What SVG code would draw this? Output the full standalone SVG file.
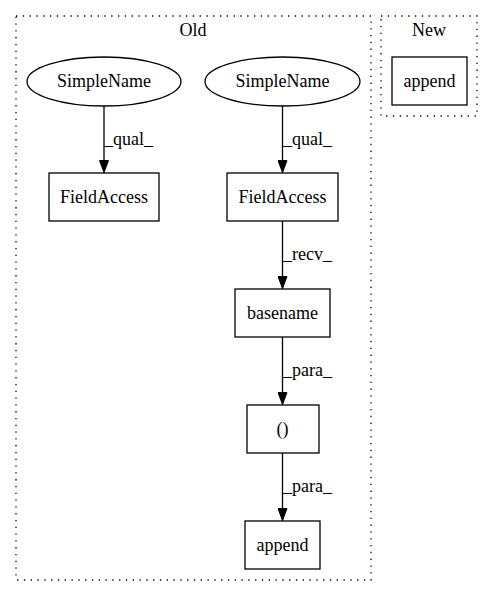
<svg xmlns="http://www.w3.org/2000/svg" width="493" height="596" viewBox="0 0 493 596">
<style>
text{font-family:"Liberation Serif","Times New Roman",serif;font-size:18px;fill:#000}
.n{text-anchor:middle}
.box{fill:none;stroke:#000;stroke-width:1.3}
.cl{fill:none;stroke:#000;stroke-width:1.3;stroke-dasharray:1.3,5.5}
.e{fill:none;stroke:#000;stroke-width:1.3}
</style>
<defs>
<marker id="ah" markerWidth="13" markerHeight="10" refX="13" refY="5" orient="auto" markerUnits="userSpaceOnUse">
<path d="M0.5,0.5 L12.5,5 L0.5,9.5 Z" fill="#000" stroke="#000"/>
</marker>
</defs>
<rect width="493" height="596" fill="#fff"/>
<g id="cluster_old">
<rect class="cl" x="16" y="16" width="355" height="564"/>
<text class="n" x="193" y="36">Old</text>
</g>
<g id="cluster_new">
<rect class="cl" x="381" y="16" width="96" height="100"/>
<text class="n" x="429" y="36">New</text>
</g>
<g id="connectors">
<path class="e" d="M104,106 L104,173" marker-end="url(#ah)"/>
<text x="104" y="145">_qual_</text>
<path class="e" d="M282.5,106 L282.5,173" marker-end="url(#ah)"/>
<text x="283" y="145">_qual_</text>
<path class="e" d="M282.5,221 L282.5,289" marker-end="url(#ah)"/>
<text x="283" y="260">_recv_</text>
<path class="e" d="M282.5,337 L282.5,405" marker-end="url(#ah)"/>
<text x="283" y="376">_para_</text>
<path class="e" d="M282.5,453 L282.5,521" marker-end="url(#ah)"/>
<text x="283" y="492">_para_</text>
</g>
<g id="new_append">
<rect class="box" x="392" y="57" width="75" height="48"/>
<text class="n" x="429.5" y="86.5">append</text>
</g>
<g id="simplename1">
<ellipse class="box" cx="104" cy="81.5" rx="77" ry="24.5"/>
<text class="n" x="104" y="87">SimpleName</text>
</g>
<g id="simplename2">
<ellipse class="box" cx="282.5" cy="81.5" rx="77.5" ry="24.5"/>
<text class="n" x="282.5" y="87">SimpleName</text>
</g>
<g id="fieldaccess1">
<rect class="box" x="49" y="173" width="110" height="48"/>
<text class="n" x="104" y="202.5">FieldAccess</text>
</g>
<g id="fieldaccess2">
<rect class="box" x="227" y="173" width="111" height="48"/>
<text class="n" x="282.5" y="202.5">FieldAccess</text>
</g>
<g id="basename">
<rect class="box" x="235" y="289" width="95" height="48"/>
<text class="n" x="282.5" y="318.5">basename</text>
</g>
<g id="paren">
<rect class="box" x="247" y="405" width="72" height="48"/>
<text class="n" x="282.5" y="434.5">()</text>
</g>
<g id="old_append">
<rect class="box" x="245" y="521" width="75" height="48"/>
<text class="n" x="282.5" y="550.5">append</text>
</g>
</svg>
